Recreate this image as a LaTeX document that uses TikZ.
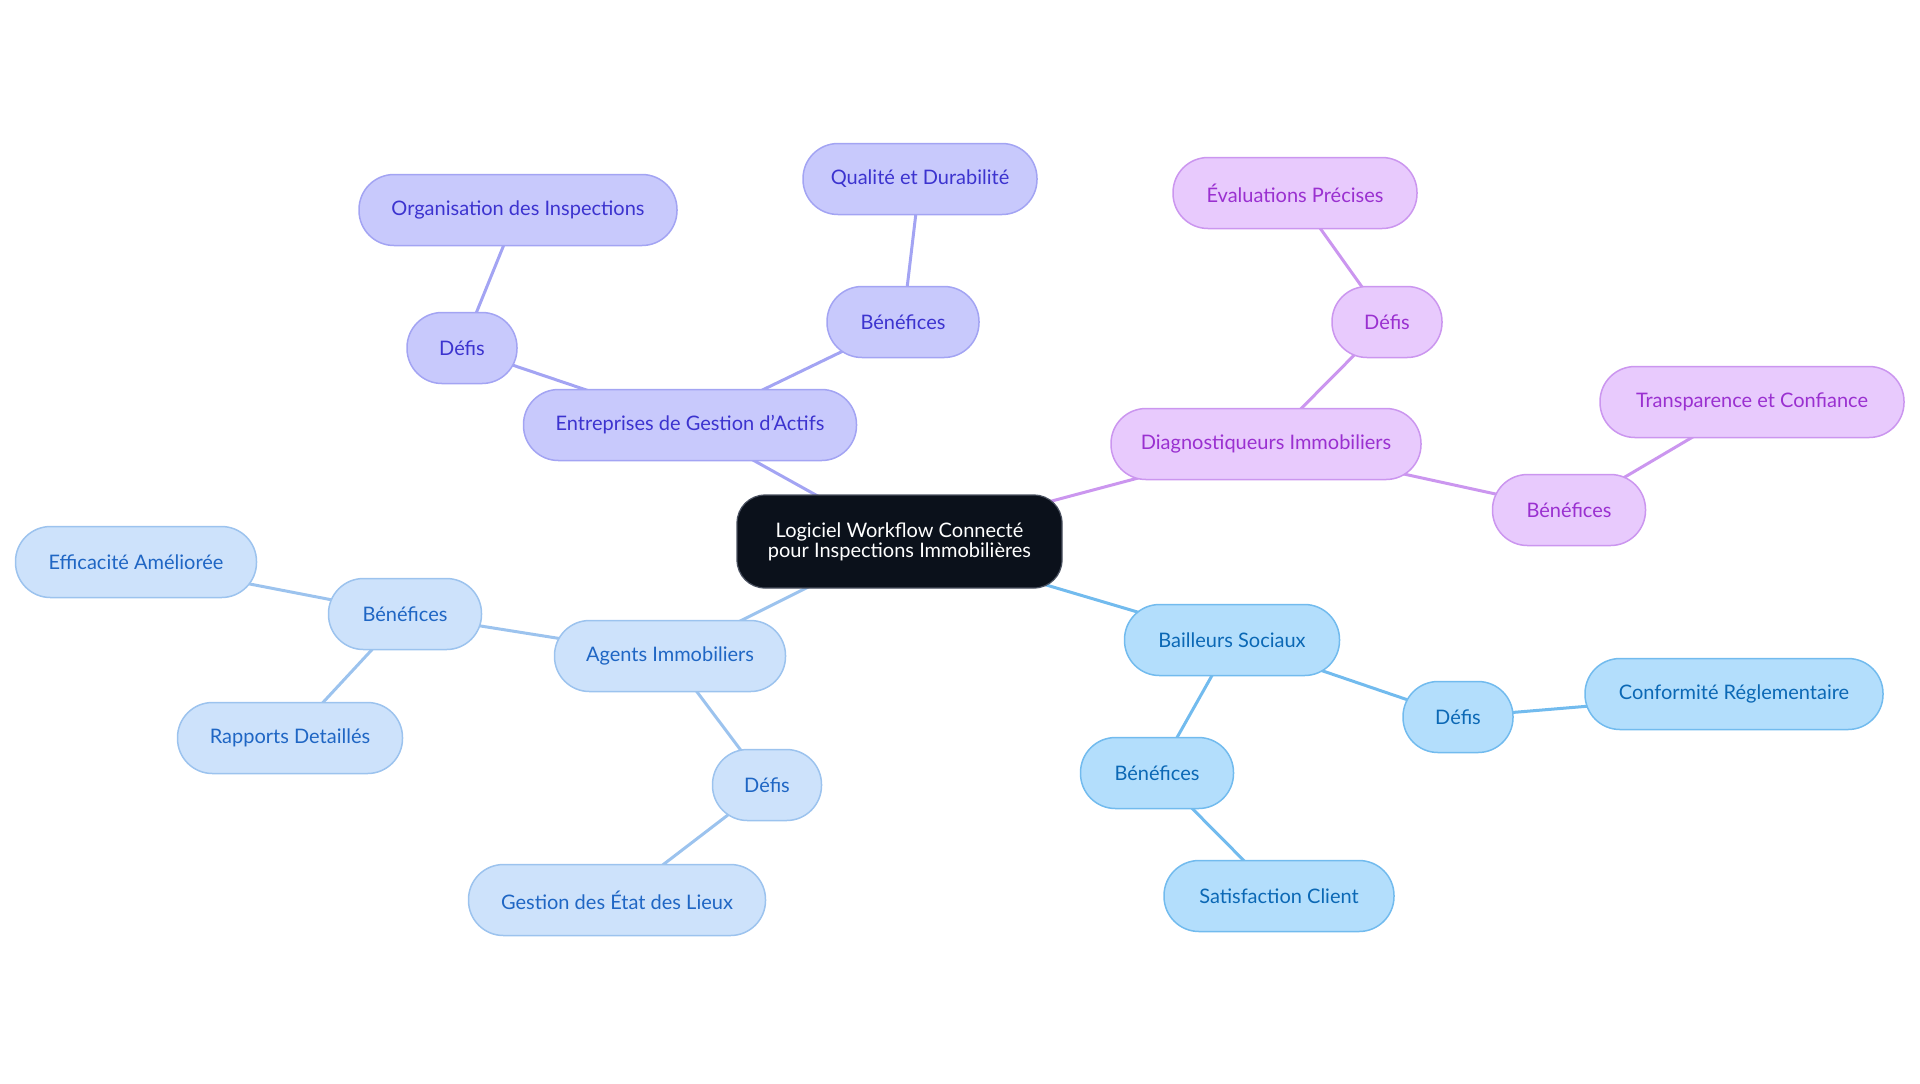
\documentclass[tikz,border=0pt]{standalone}
\usepackage{fontspec}
\setmainfont{Lato}
\usetikzlibrary{backgrounds}
\definecolor{cfill}{HTML}{0B111B}
\definecolor{cdraw}{HTML}{4A5160}
\definecolor{ifill}{HTML}{C8C9FC}
\definecolor{idraw}{HTML}{A3A4F3}
\definecolor{itext}{HTML}{3C33CF}
\definecolor{pfill}{HTML}{E8CAFD}
\definecolor{pdraw}{HTML}{CB96EF}
\definecolor{ptext}{HTML}{9A30D0}
\definecolor{lfill}{HTML}{CDE2FB}
\definecolor{ldraw}{HTML}{9CC3EE}
\definecolor{ltext}{HTML}{1F66C4}
\definecolor{sfill}{HTML}{B3DEFC}
\definecolor{sdraw}{HTML}{72BBEE}
\definecolor{stext}{HTML}{0B68B5}
\tikzset{
  pill/.style={rectangle, rounded corners=17.5pt, minimum height=35.5pt, inner sep=0pt, line width=0.75pt, font=\fontsize{10pt}{12pt}\selectfont},
  ind/.style={pill, fill=ifill, draw=idraw, text=itext},
  pur/.style={pill, fill=pfill, draw=pdraw, text=ptext},
  lbl/.style={pill, fill=lfill, draw=ldraw, text=ltext},
  sky/.style={pill, fill=sfill, draw=sdraw, text=stext},
  root/.style={rectangle, rounded corners=14pt, minimum height=46.5pt, minimum width=162.5pt, inner sep=0pt, fill=cfill, draw=cdraw, line width=0.6pt, text=white, align=center, font=\fontsize{10pt}{10pt}\selectfont},
  edge/.style={line width=1.5pt}
}
\begin{document}
\begin{tikzpicture}[x=0.5pt, y=-0.5pt]
\useasboundingbox (0,0) rectangle (1920,1083);
\node[root] (c) at (899.5,541.5) {Logiciel Workflow Connecté\\pour Inspections Immobilières};
% indigo branch
\node[ind, minimum width=166.5pt] (ent) at (690,425) {Entreprises de Gestion d'Actifs};
\node[ind, minimum width=55pt] (entd) at (462,348) {Défis};
\node[ind, minimum width=159pt] (org) at (518,210) {Organisation des Inspections};
\node[ind, minimum width=76pt] (entb) at (903,322) {Bénéfices};
\node[ind, minimum width=117pt] (qual) at (920,179) {Qualité et Durabilité};
% purple branch
\node[pur, minimum width=155pt] (diag) at (1266,444) {Diagnostiqueurs Immobiliers};
\node[pur, minimum width=55pt] (diagd) at (1387,322) {Défis};
\node[pur, minimum width=122pt] (eval) at (1295,193) {Évaluations Précises};
\node[pur, minimum width=76.5pt] (diagb) at (1569,510) {Bénéfices};
\node[pur, minimum width=152pt] (trans) at (1752,402) {Transparence et Confiance};
% sky branch
\node[sky, minimum width=107.5pt] (bail) at (1232,640) {Bailleurs Sociaux};
\node[sky, minimum width=55pt] (baild) at (1458,717) {Défis};
\node[sky, minimum width=149pt] (conf) at (1734,694) {Conformité Réglementaire};
\node[sky, minimum width=76.5pt] (bailb) at (1157,773) {Bénéfices};
\node[sky, minimum width=115pt] (sat) at (1279,896) {Satisfaction Client};
% light blue branch
\node[lbl, minimum width=115.5pt] (ag) at (670,656) {Agents Immobiliers};
\node[lbl, minimum width=76.5pt] (agb) at (405,614) {Bénéfices};
\node[lbl, minimum width=120.5pt] (eff) at (136,562) {Efficacité Améliorée};
\node[lbl, minimum width=112.5pt] (rap) at (290,738) {Rapports Detaillés};
\node[lbl, minimum width=54.5pt] (agd) at (767,785) {Défis};
\node[lbl, minimum width=148.5pt] (gest) at (617,900) {Gestion des État des Lieux};
\begin{pgfonlayer}{background}
\draw[edge, draw=idraw] (c.center) -- (ent.center);
\draw[edge, draw=idraw] (ent.center) -- (entd.center);
\draw[edge, draw=idraw] (entd.center) -- (org.center);
\draw[edge, draw=idraw] (ent.center) -- (entb.center);
\draw[edge, draw=idraw] (entb.center) -- (qual.center);
\draw[edge, draw=pdraw] (c.center) -- (diag.center);
\draw[edge, draw=pdraw] (diag.center) -- (diagd.center);
\draw[edge, draw=pdraw] (diagd.center) -- (eval.center);
\draw[edge, draw=pdraw] (diag.center) -- (diagb.center);
\draw[edge, draw=pdraw] (diagb.center) -- (trans.center);
\draw[edge, draw=sdraw] (c.center) -- (bail.center);
\draw[edge, draw=sdraw] (bail.center) -- (baild.center);
\draw[edge, draw=sdraw] (baild.center) -- (conf.center);
\draw[edge, draw=sdraw] (bail.center) -- (bailb.center);
\draw[edge, draw=sdraw] (bailb.center) -- (sat.center);
\draw[edge, draw=ldraw] (c.center) -- (ag.center);
\draw[edge, draw=ldraw] (ag.center) -- (agb.center);
\draw[edge, draw=ldraw] (agb.center) -- (eff.center);
\draw[edge, draw=ldraw] (agb.center) -- (rap.center);
\draw[edge, draw=ldraw] (ag.center) -- (agd.center);
\draw[edge, draw=ldraw] (agd.center) -- (gest.center);
\end{pgfonlayer}
\end{tikzpicture}
\end{document}
